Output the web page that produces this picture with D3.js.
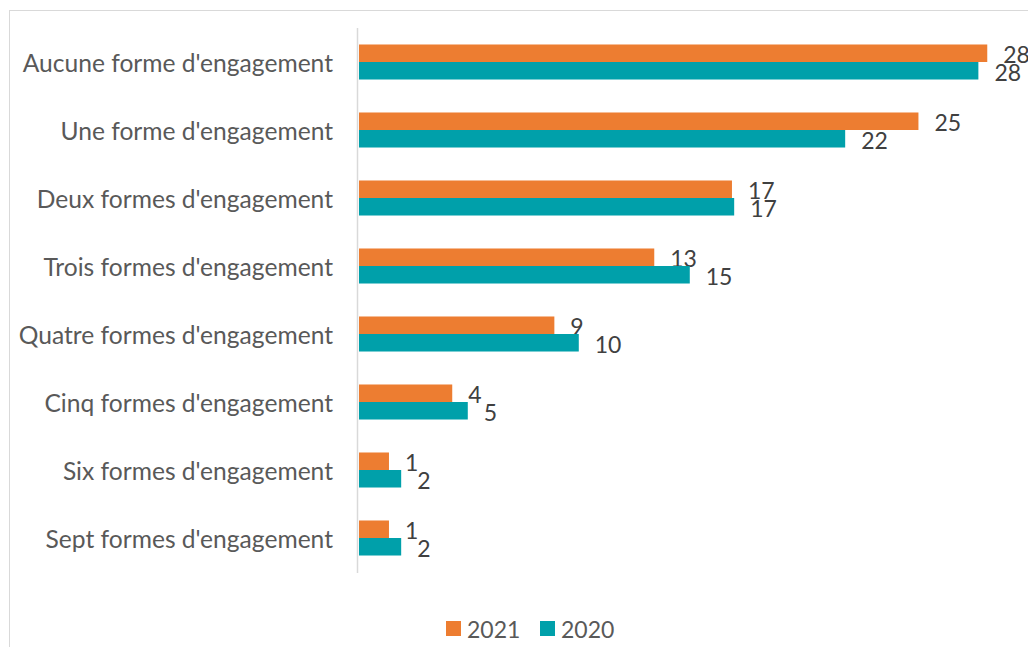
<!DOCTYPE html>
<html>
<head>
<meta charset="utf-8">
<script src="https://cdn.jsdelivr.net/npm/d3@7"></script>
<style>
  html, body { margin: 0; padding: 0; background: #fff; }
  svg { display: block; }
  text { font-family: Lato, "Open Sans", sans-serif; }
</style>
</head>
<body>
<svg id="chart" width="1028" height="647"></svg>
<script>
// ---- Data ----
const categories = [
  "Aucune forme d'engagement",
  "Une forme d'engagement",
  "Deux formes d'engagement",
  "Trois formes d'engagement",
  "Quatre formes d'engagement",
  "Cinq formes d'engagement",
  "Six formes d'engagement",
  "Sept formes d'engagement"
];
const seriesNames = ["2021", "2020"];
const values2021 = [28.3, 25.2, 16.8, 13.3, 8.8, 4.2, 1.35, 1.35];
const values2020 = [27.9, 21.9, 16.9, 14.9, 9.9, 4.9, 1.9, 1.9];
const seriesColors = ["#ED7D31", "#00A0AA"];

const series = [values2021, values2020];

// ---- Layout ----
const W = 1028, H = 647;
const svg = d3.select("#chart");

// outer frame
svg.append("rect")
  .attr("x", 9.5).attr("y", 10.5)
  .attr("width", W).attr("height", H)
  .attr("fill", "none").attr("stroke", "#d9d9d9").attr("stroke-width", 1);

const x = d3.scaleLinear().domain([0, 30]).range([359, 359 + 30 * 22.2]);
const y = d3.scaleBand().domain(categories).range([28, 572])
  .paddingInner(0.485).paddingOuter(0.2425);
const ySub = d3.scaleBand().domain(seriesNames).range([0, y.bandwidth()]);

const fmt = d3.format(".0f");
const catFontSize = 24.6;
const fontSize = 23;

// category labels
svg.append("g").selectAll("text")
  .data(categories).join("text")
  .attr("x", 333)
  .attr("y", d => y(d) + y.bandwidth() / 2)
  .attr("text-anchor", "end")
  .attr("dominant-baseline", "central")
  .attr("font-size", catFontSize)
  .attr("fill", "#595959")
  .text(d => d);

// bars
seriesNames.forEach((name, si) => {
  const g = svg.append("g");
  g.selectAll("rect")
    .data(series[si]).join("rect")
    .attr("x", x(0))
    .attr("y", (d, i) => y(categories[i]) + ySub(name))
    .attr("width", d => x(d) - x(0))
    .attr("height", ySub.bandwidth())
    .attr("fill", seriesColors[si]);
  g.selectAll("text")
    .data(series[si]).join("text")
    .attr("x", d => x(d) + 16)
    .attr("y", (d, i) => y(categories[i]) + ySub(name) + ySub.bandwidth() / 2 + 1)
    .attr("dominant-baseline", "central")
    .attr("font-size", fontSize)
    .attr("fill", "#404040")
    .text(d => fmt(d));
});

// vertical axis line
svg.append("line")
  .attr("x1", 357.5).attr("x2", 357.5)
  .attr("y1", 28).attr("y2", 573)
  .attr("stroke", "#d9d9d9").attr("stroke-width", 1.5);

// legend
const legendX = [446, 540];
const lg = svg.append("g");
seriesNames.forEach((name, si) => {
  lg.append("rect")
    .attr("x", legendX[si]).attr("y", 621)
    .attr("width", 15).attr("height", 15)
    .attr("fill", seriesColors[si]);
  lg.append("text")
    .attr("x", legendX[si] + 21).attr("y", 629)
    .attr("dominant-baseline", "central")
    .attr("font-size", fontSize)
    .attr("fill", "#595959")
    .text(name);
});
</script>
</body>
</html>
